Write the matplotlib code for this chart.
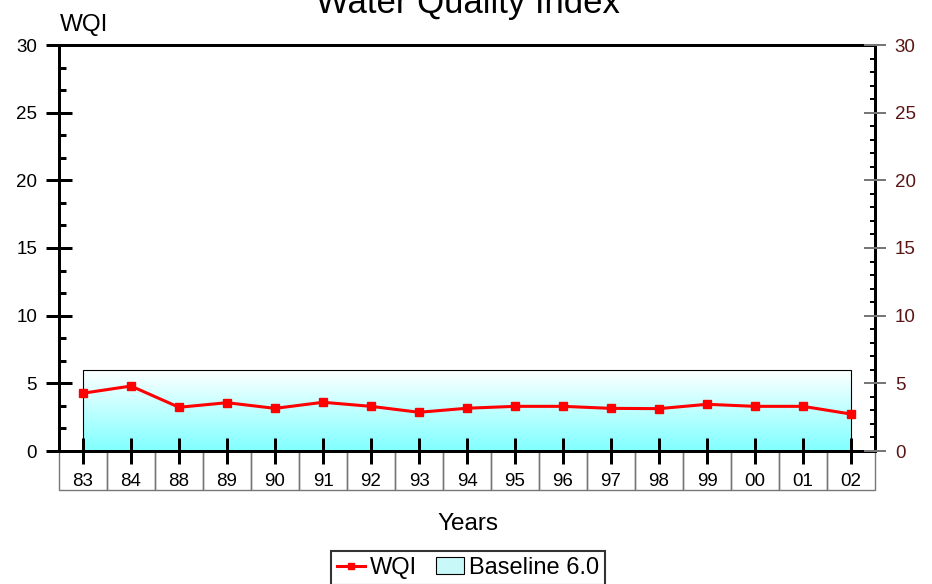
import matplotlib.pyplot as plt
import numpy as np
from matplotlib.ticker import MultipleLocator
from matplotlib.patches import Rectangle, Patch
from matplotlib.lines import Line2D
from matplotlib.colors import LinearSegmentedColormap

plt.rcParams['font.family'] = ['Liberation Sans', 'DejaVu Sans']

years = ['83', '84', '88', '89', '90', '91', '92', '93', '94', '95',
         '96', '97', '98', '99', '00', '01', '02']
wqi = [4.27, 4.8, 3.23, 3.57, 3.15, 3.6, 3.3, 2.86, 3.16, 3.3,
       3.3, 3.15, 3.13, 3.45, 3.3, 3.3, 2.73]
baseline = 6.0

W, H = 932, 584
PX = 0.72  # points per pixel at 100 dpi
fig = plt.figure(figsize=(W / 100, H / 100), dpi=100)
ax = fig.add_axes([59 / W, (H - 451) / H, (875 - 59) / W, (451 - 45) / H])

n = len(years)
x = np.arange(n) + 0.5

# baseline band with vertical gradient
grad = np.linspace(0, 1, 256).reshape(-1, 1)
cmap = LinearSegmentedColormap.from_list('bl', ['#80ffff', '#ffffff'])
ax.imshow(grad, extent=[x[0], x[-1], 0, baseline], origin='lower', cmap=cmap,
          aspect='auto', zorder=1)
ax.add_patch(Rectangle((x[0], 0), x[-1] - x[0], baseline, fill=False,
                       edgecolor='black', linewidth=0.8, zorder=2))
ax.set_xlim(0, n)
ax.set_ylim(0, 30)

ax.plot(x, wqi, color='#ff0000', linewidth=2.2, marker='s', markersize=5.8, zorder=4)

# category table below the axis
ppu = 406 / 30  # pixels per y unit
for i, lab in enumerate(years):
    ax.add_patch(Rectangle((i, -39 / ppu), 1, 39 / ppu, fill=False,
                           edgecolor='#777777', linewidth=1, clip_on=False, zorder=0))
    ax.text(i + 0.5, -30 / ppu, lab, ha='center', va='center', fontsize=13.5)

ax.set_xticks(x)
ax.set_xticklabels([])
ax.tick_params(axis='x', direction='inout', length=26 * PX, width=3 * PX, color='black')

ax.yaxis.set_major_locator(MultipleLocator(5))
ax.yaxis.set_minor_locator(MultipleLocator(5 / 3))
ax.tick_params(axis='y', which='major', direction='inout', length=27 * PX, width=3 * PX,
               labelsize=13.5, pad=6)
ax.tick_params(axis='y', which='minor', direction='in', length=7 * PX, width=3 * PX)

for s in ['left', 'bottom', 'top', 'right']:
    ax.spines[s].set_linewidth(3 * PX)

ax2 = ax.twinx()
ax2.set_ylim(0, 30)
ax2.yaxis.set_major_locator(MultipleLocator(5))
ax2.yaxis.set_minor_locator(MultipleLocator(1))
ax2.tick_params(axis='y', which='major', direction='inout', length=23 * PX, width=2 * PX,
                color='#777777', labelcolor='#5a1515', labelsize=13.5, pad=6)
ax2.tick_params(axis='y', which='minor', direction='in', length=5 * PX, width=2 * PX)
for s in ax2.spines.values():
    s.set_visible(False)

fig.text(468 / W, 1 - 13 / H, 'Water Quality Index', ha='center', va='baseline', fontsize=25)
fig.text(60 / W, 1 - 31 / H, 'WQI', ha='left', va='baseline', fontsize=17.5)
fig.text(468 / W, 1 - 524 / H, 'Years', ha='center', va='center', fontsize=17.5)

handles = [Line2D([], [], color='#ff0000', linewidth=2.2, marker='s', markersize=4),
           Patch(facecolor='#c8f8f8', edgecolor='black', linewidth=0.8)]
leg = fig.legend(handles, ['WQI', 'Baseline 6.0'], loc='center', ncol=2,
                 bbox_to_anchor=(468 / W, 1 - 568 / H), fontsize=17, frameon=True,
                 fancybox=False, edgecolor='black', handlelength=1.2, handletextpad=0.2,
                 columnspacing=0.8, borderpad=0.25)
leg.get_frame().set_linewidth(1.5)

fig.savefig('out.png', dpi=100)
